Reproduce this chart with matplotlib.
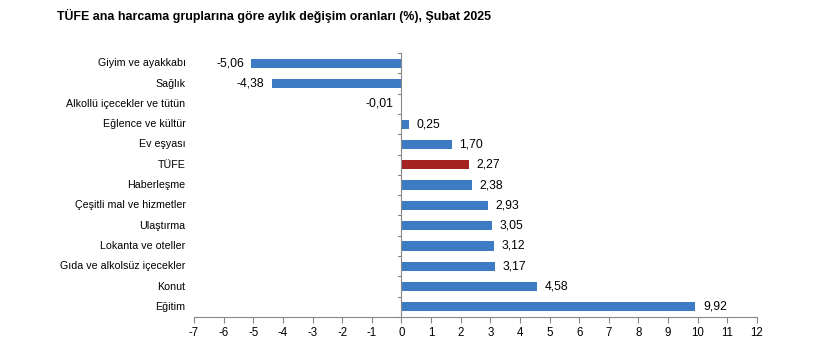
import matplotlib
matplotlib.use('Agg')
import matplotlib.pyplot as plt

plt.rcParams['font.family'] = ['Liberation Sans', 'DejaVu Sans']

# ============================================================
# VERILER
# ============================================================
kategoriler = ['Giyim ve ayakkabı', 'Sağlık', 'Alkollü içecekler ve tütün',
               'Eğlence ve kültür', 'Ev eşyası', 'TÜFE', 'Haberleşme',
               'Çeşitli mal ve hizmetler', 'Ulaştırma', 'Lokanta ve oteller',
               'Gıda ve alkolsüz içecekler', 'Konut', 'Eğitim']
degerler = [-5.06, -4.38, -0.01, 0.25, 1.70, 2.27, 2.38,
            2.93, 3.05, 3.12, 3.17, 4.58, 9.92]
x_ticks = list(range(-7, 13))

MAVI = '#3d7cc4'
KIRMIZI = '#a52222'

fig = plt.figure(figsize=(8.38, 3.47), dpi=100)
ax = fig.add_axes([0.2315, 0.0865, 0.6718, 0.7605])

n = len(kategoriler)
y = list(range(n))
renkler = [KIRMIZI if k == 'TÜFE' else MAVI for k in kategoriler]
ax.barh(y, degerler, height=0.45, color=renkler, zorder=2)

for yi, v in zip(y, degerler):
    metin = f'{v:.2f}'.replace('.', ',')
    if v < 0:
        ax.annotate(metin, (v, yi), xytext=(-5.5, 0), textcoords='offset points',
                    ha='right', va='center', fontsize=8.7)
    else:
        ax.annotate(metin, (v, yi), xytext=(5.5, 0), textcoords='offset points',
                    ha='left', va='center', fontsize=8.7)

ax.set_xlim(-7, 12)
ax.set_ylim(n - 0.5, -0.5)
ax.set_xticks(x_ticks)
ax.set_xticklabels([str(t) for t in x_ticks], fontsize=8.3)
ax.tick_params(axis='x', direction='out', length=4, color='#888888', pad=3)

# kategori isimleri sol tarafta
ax.set_yticks([])
for yi, k in zip(y, kategoriler):
    ax.text(-0.015, yi, k, transform=ax.get_yaxis_transform(),
            ha='right', va='center', fontsize=7.7)

for s in ['top', 'right', 'left']:
    ax.spines[s].set_visible(False)
ax.spines['bottom'].set_color('#888888')

# 0 noktasinda dikey eksen ve aralik isaretleri
ax.axvline(0, color='#888888', lw=0.8, zorder=3)
for b in range(n + 1):
    ax.plot([-0.1, 0], [b - 0.5, b - 0.5], color='#888888', lw=0.8,
            clip_on=False, zorder=3)

fig.text(0.068, 0.955, 'TÜFE ana harcama gruplarına göre aylık değişim oranları (%), Şubat 2025',
         fontsize=8.9, fontweight='bold', ha='left', va='center')

fig.savefig('out.png', dpi=100)
